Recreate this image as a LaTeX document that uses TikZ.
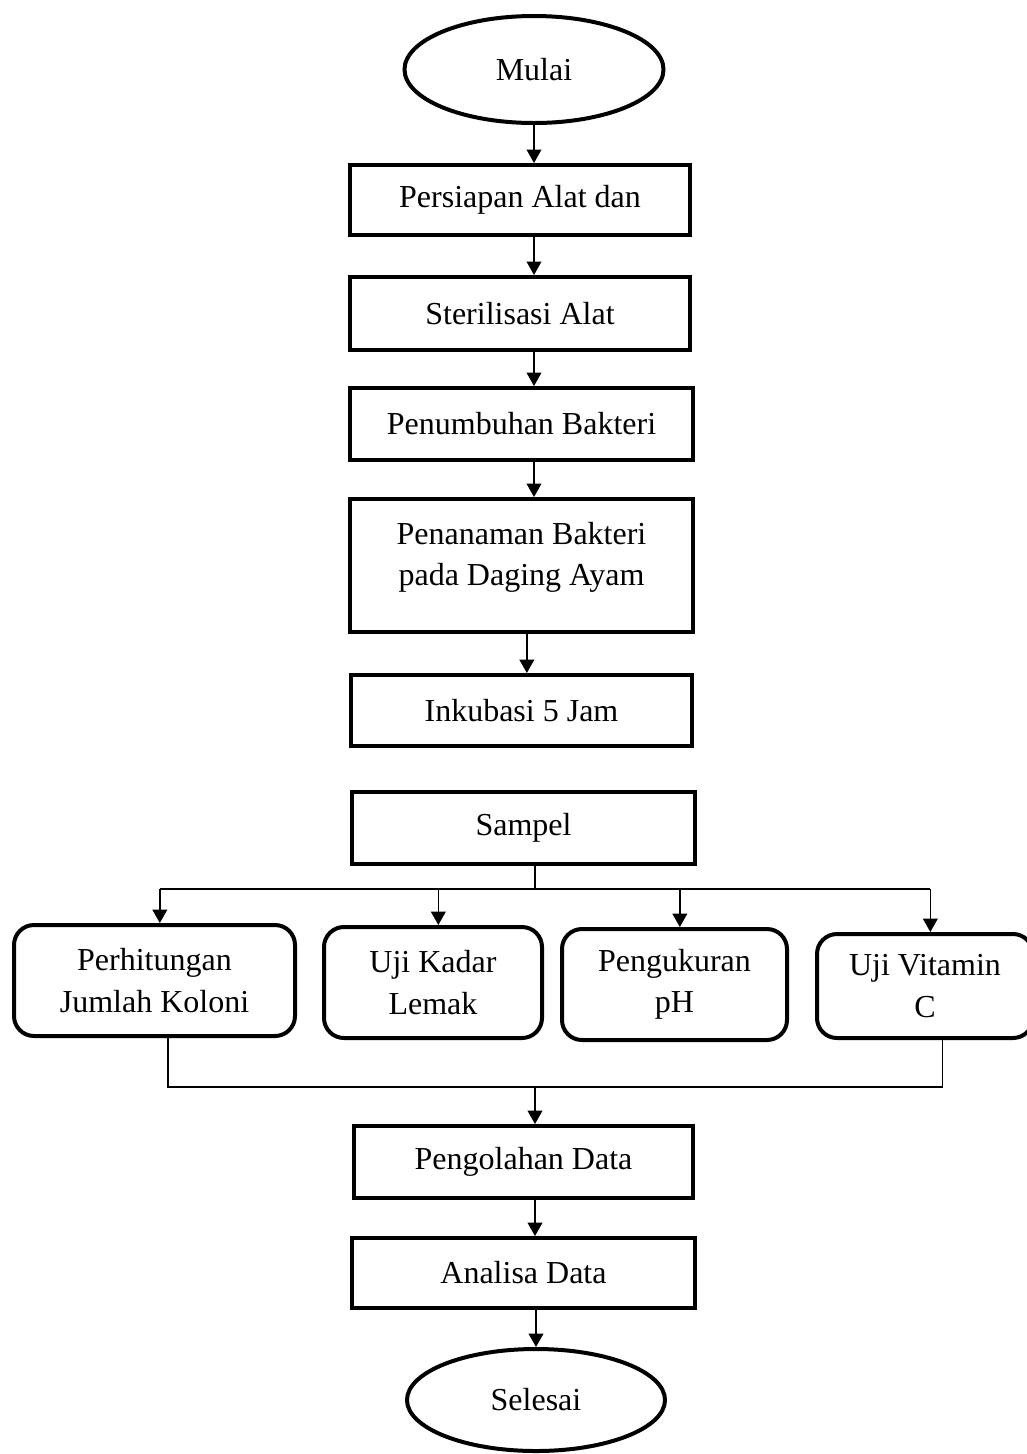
\documentclass[tikz,border=0pt]{standalone}
\usepackage{fontspec}
\setmainfont{Liberation Serif}
\usetikzlibrary{shapes.geometric,arrows.meta}

\tikzset{
  steptext/.style={align=center, font=\fontsize{24}{31}\selectfont},
  stepbox/.style={draw, line width=3pt, inner sep=0pt, steptext},
  endsoval/.style={stepbox, ellipse},
  testbox/.style={stepbox, rounded corners=15pt},
  flow/.style={line width=1.1pt},
  arrow/.style={flow, -{Triangle[length=10pt,width=11pt]}}
}

\begin{document}
\begin{tikzpicture}[x=0.75pt,y=0.75pt,yscale=-1,xscale=1]
%set diagram left start at 0, and has height of 1454
\useasboundingbox (0,0) rectangle (1027,1454);

%Shape: Ellipse [id:mulai]
\node [endsoval, minimum width=194.25pt, minimum height=80.25pt] (mulai) at (534,69.5) {Mulai};
%Shape: Rectangle [id:persiapan]
\node [stepbox, minimum width=255pt, minimum height=52.5pt] (persiapan) at (520,200) {Persiapan Alat dan};
%Shape: Rectangle [id:sterilisasi]
\node [stepbox, minimum width=255pt, minimum height=54.75pt] (sterilisasi) at (520,313.5) {Sterilisasi Alat};
%Shape: Rectangle [id:penumbuhan]
\node [stepbox, minimum width=257.25pt, minimum height=54pt] (penumbuhan) at (521.5,424) {Penumbuhan Bakteri};
%Shape: Rectangle [id:penanaman] (text sits high in the box)
\node [stepbox, minimum width=257.25pt, minimum height=99.75pt,
  label={[steptext, yshift=6pt]center:{Penanaman Bakteri\\pada Daging Ayam}}] (penanaman) at (521.5,565.5) {};
%Shape: Rectangle [id:inkubasi]
\node [stepbox, minimum width=255.75pt, minimum height=53.25pt] (inkubasi) at (521.5,710.5) {Inkubasi 5 Jam};
%Shape: Rectangle [id:sampel]
\node [stepbox, minimum width=257.25pt, minimum height=54pt] (sampel) at (523.5,828) {Sampel};

%Rounded Rect [id:koloni]
\node [testbox, minimum width=210.75pt, minimum height=83.25pt] (koloni) at (154.5,980.5) {Perhitungan\\Jumlah Koloni};
%Rounded Rect [id:lemak]
\node [testbox, minimum width=163.5pt, minimum height=83.25pt] (lemak) at (433,982.5) {Uji Kadar\\Lemak};
%Rounded Rect [id:ph]
\node [testbox, minimum width=168.75pt, minimum height=83.25pt] (ph) at (674.5,984.5) {Pengukuran\\pH};
%Rounded Rect [id:vitc]
\node [testbox, minimum width=162pt, minimum height=78pt] (vitc) at (925,986) {Uji Vitamin\\C};

%Shape: Rectangle [id:pengolahan]
\node [stepbox, minimum width=254.25pt, minimum height=54pt] (pengolahan) at (523.5,1162) {Pengolahan Data};
%Shape: Rectangle [id:analisa]
\node [stepbox, minimum width=257.25pt, minimum height=52.5pt] (analisa) at (523.5,1273) {Analisa Data};
%Shape: Ellipse [id:selesai]
\node [endsoval, minimum width=193.5pt, minimum height=76.5pt] (selesai) at (536,1400) {Selesai};

%Straight Lines
\draw [arrow] (mulai.south) -- (mulai.south |- persiapan.north);
\draw [arrow] (persiapan.south -| mulai.south) -- (sterilisasi.north -| mulai.south);
\draw [arrow] (sterilisasi.south -| mulai.south) -- (penumbuhan.north -| mulai.south);
\draw [arrow] (penumbuhan.south -| mulai.south) -- (penanaman.north -| mulai.south);
\draw [arrow] ([xshift=4pt]penanaman.south) -- ([xshift=4pt]penanaman.south |- inkubasi.north);

%Branch to the tests
\coordinate (split) at (535,889);
\draw [flow] (sampel.south -| split) -- (split);
\draw [flow] ([xshift=4pt]koloni.north |- split) -- ([xshift=4pt]vitc.north |- split);
\foreach \t in {koloni,lemak,ph,vitc}
  \draw [arrow] ([xshift=4pt]\t.north |- split) -- ([xshift=4pt]\t.north);

%Merge of the tests
\coordinate (merge) at (535,1087);
\draw [flow] ([xshift=10pt]koloni.south) -- ([xshift=10pt]koloni.south |- merge)
  -- ([xshift=13pt]vitc.south |- merge) -- ([xshift=13pt]vitc.south);
\draw [arrow] (merge) -- (merge |- pengolahan.north);
\draw [arrow] (pengolahan.south -| merge) -- (analisa.north -| merge);
\draw [arrow] (analisa.south -| selesai.north) -- (selesai.north);

\end{tikzpicture}
\end{document}
